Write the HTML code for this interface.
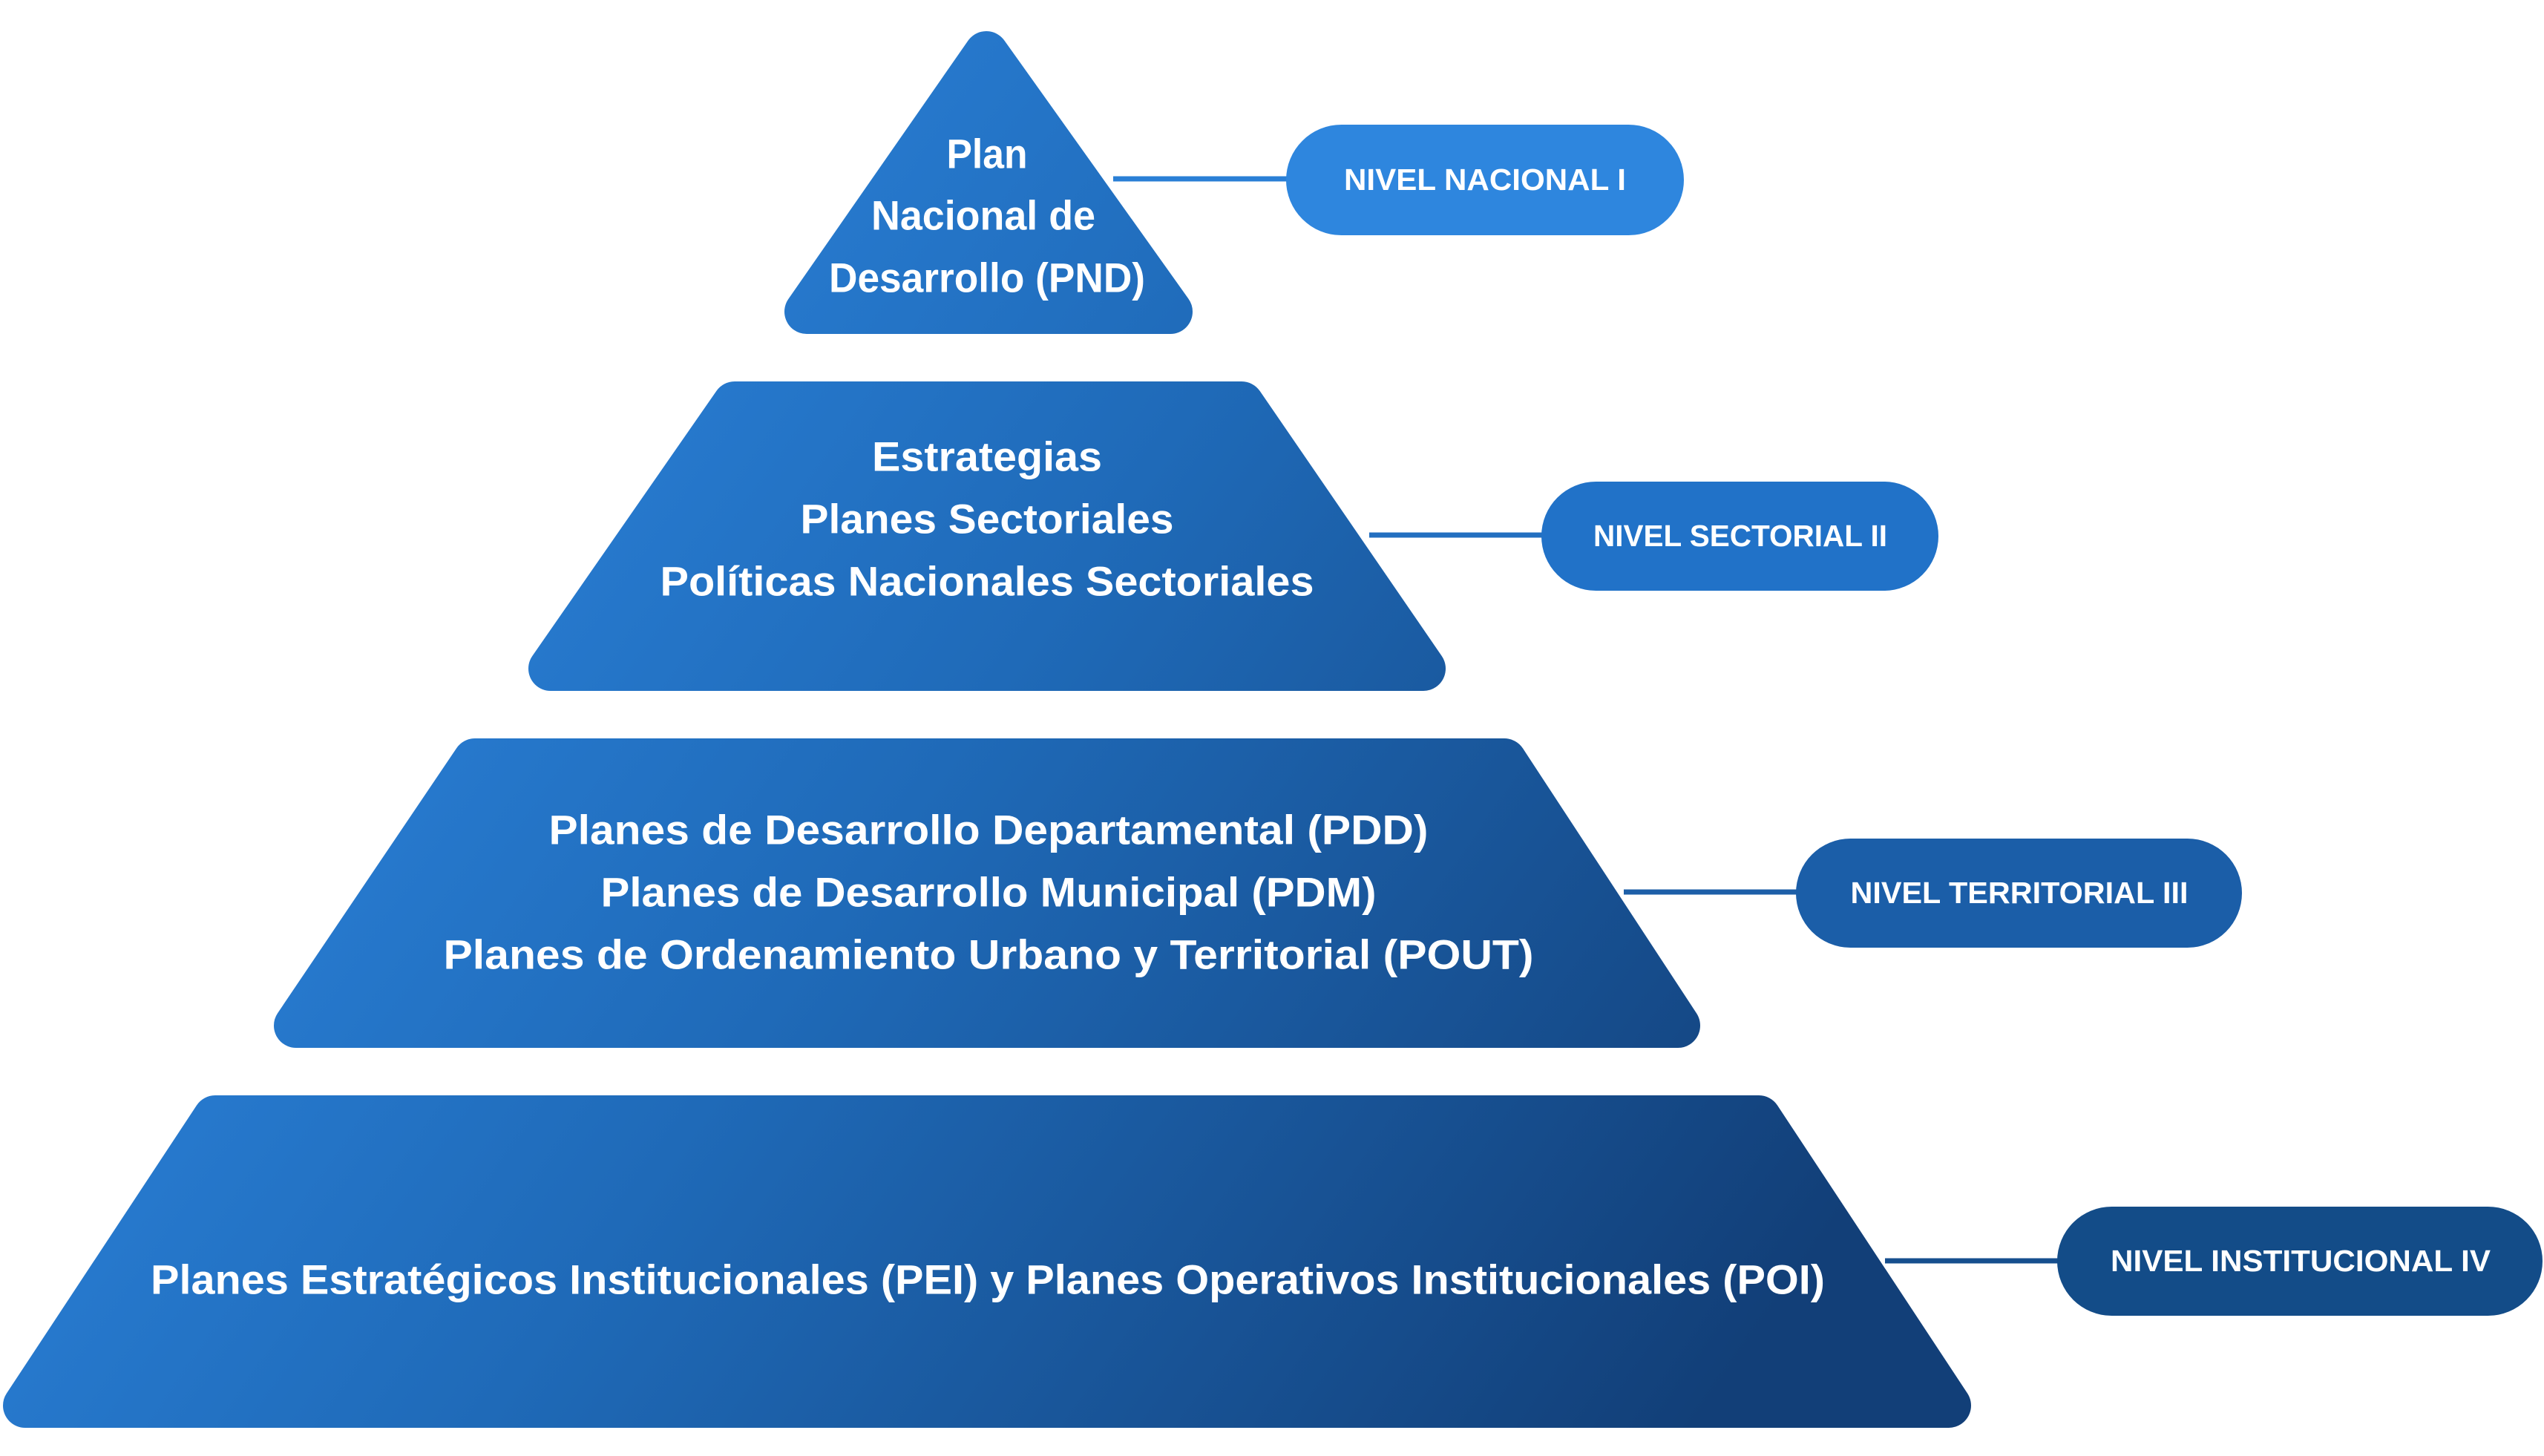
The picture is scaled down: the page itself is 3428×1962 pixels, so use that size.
<!DOCTYPE html>
<html><head><meta charset="utf-8"><style>
html,body{margin:0;padding:0;background:#fff;width:3428px;height:1962px;overflow:hidden}
svg{display:block}
text{font-family:"Liberation Sans",sans-serif;font-weight:bold;fill:#fff}
</style></head><body>
<svg width="3428" height="1962" viewBox="0 0 3428 1962" xmlns="http://www.w3.org/2000/svg">
<defs>
<linearGradient id="g" gradientUnits="userSpaceOnUse" x1="300" y1="500" x2="2300" y2="1900">
<stop offset="0" stop-color="#2d86e0"/><stop offset="0.45" stop-color="#1f6ab8"/><stop offset="1" stop-color="#123f78"/>
</linearGradient>
</defs>
<g fill="url(#g)" stroke="url(#g)" stroke-width="60" stroke-linejoin="round">
<polygon points="1329,72 1087,420 1577,420"/>
<polygon points="990,544 1673,544 1918,901 742,901"/>
<polygon points="640,1025 2027,1025 2261,1382 399,1382"/>
<polygon points="290,1506 2370,1506 2626,1894 34,1894"/>
</g>
<g stroke-width="7">
<line x1="1500" y1="241" x2="1740" y2="241" stroke="#2a7fd6"/>
<line x1="1845" y1="721" x2="2080" y2="721" stroke="#236fc0"/>
<line x1="2188" y1="1202" x2="2425" y2="1202" stroke="#1d5fa8"/>
<line x1="2540" y1="1699" x2="2775" y2="1699" stroke="#164f8e"/>
</g>
<rect x="1733" y="168" width="536" height="149" rx="74.5" fill="#2e86de"/>
<rect x="2077" y="649" width="535" height="147" rx="73.5" fill="#2172c8"/>
<rect x="2420" y="1130" width="601" height="147" rx="73.5" fill="#1b5ea8"/>
<rect x="2772" y="1626" width="654" height="147" rx="73.5" fill="#134c88"/>
<g font-size="56" text-anchor="middle" dominant-baseline="central">
<text x="1330" y="207" textLength="109" lengthAdjust="spacingAndGlyphs">Plan</text>
<text x="1325" y="290" textLength="302" lengthAdjust="spacingAndGlyphs">Nacional de</text>
<text x="1330" y="374" textLength="426" lengthAdjust="spacingAndGlyphs">Desarrollo (PND)</text>
<text x="1330" y="615" textLength="310" lengthAdjust="spacingAndGlyphs">Estrategias</text>
<text x="1330" y="699" textLength="503" lengthAdjust="spacingAndGlyphs">Planes Sectoriales</text>
<text x="1330" y="783" textLength="881" lengthAdjust="spacingAndGlyphs">Políticas Nacionales Sectoriales</text>
<text x="1332" y="1118" textLength="1185" lengthAdjust="spacingAndGlyphs">Planes de Desarrollo Departamental (PDD)</text>
<text x="1332" y="1202" textLength="1045" lengthAdjust="spacingAndGlyphs">Planes de Desarrollo Municipal (PDM)</text>
<text x="1332" y="1286" textLength="1469" lengthAdjust="spacingAndGlyphs">Planes de Ordenamiento Urbano y Territorial (POUT)</text>
<text x="1331" y="1724" textLength="2256" lengthAdjust="spacingAndGlyphs">Planes Estratégicos Institucionales (PEI) y Planes Operativos Institucionales (POI)</text>
</g>
<g font-size="41" text-anchor="middle" dominant-baseline="central">
<text x="2001" y="242" textLength="380" lengthAdjust="spacingAndGlyphs">NIVEL NACIONAL I</text>
<text x="2345" y="722" textLength="396" lengthAdjust="spacingAndGlyphs">NIVEL SECTORIAL II</text>
<text x="2721" y="1203" textLength="455" lengthAdjust="spacingAndGlyphs">NIVEL TERRITORIAL III</text>
<text x="3100" y="1699" textLength="512" lengthAdjust="spacingAndGlyphs">NIVEL INSTITUCIONAL IV</text>
</g>
</svg>
</body></html>
